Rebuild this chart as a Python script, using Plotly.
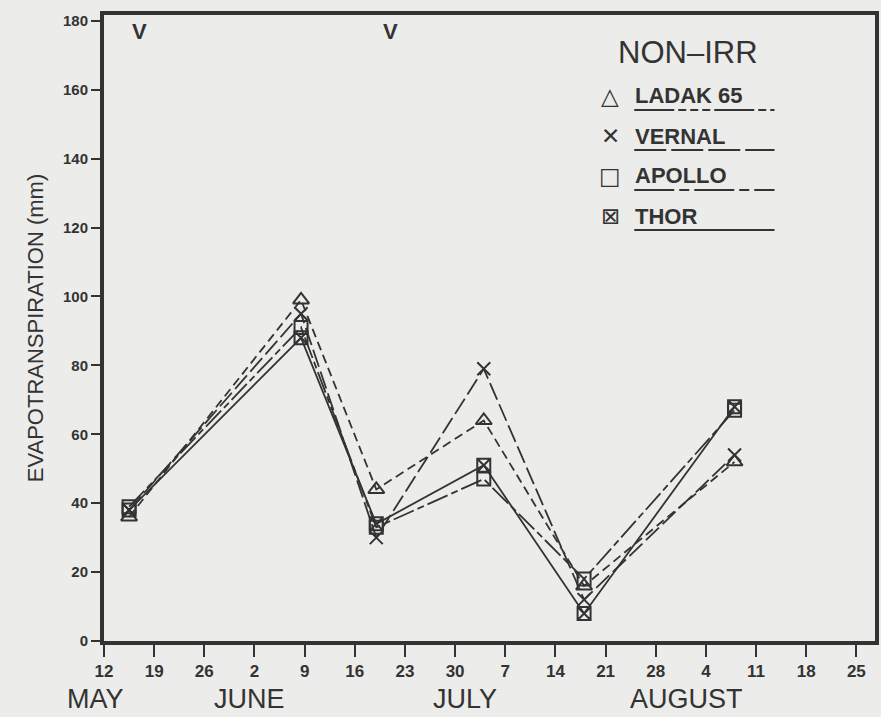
import plotly.graph_objects as go

# ---- data (x = days after 12 May) ----
days = [3.5, 27.5, 38, 53, 67, 88]
ladak = [36, 99, 44, 64, 16, 52]
vernal = [38, 95, 30, 79, 12, 54]
apollo = [39, 91, 33, 47, 18, 67]
thor = [38, 88, 34, 51, 8, 68]

tick_days = [0, 7, 14, 21, 28, 35, 42, 49, 56, 63, 70, 77, 84, 91, 98, 105]
tick_text = ["12", "19", "26", "2", "9", "16", "23", "30", "7", "14", "21", "28", "4", "11", "18", "25"]
months = ["MAY", "JUNE", "JULY", "AUGUST"]
month_px = [95, 250, 467, 690]
cut_days = [5, 40]

INK = "#333333"
BG = "#ececea"
SANS = "Liberation Sans, Arial, sans-serif"

W, H = 881, 717
L, R, T, B = 104, 2, 15, 76
PW, PH = W - L - R, H - T - B


def px(xp):
    return (xp - L) / PW


def py(yp):
    return (H - B - yp) / PH


series = [
    ("LADAK 65", ladak, "9px,5px", "triangle-up-open", 14),
    ("VERNAL", vernal, "18px,5px", "x-thin-open", 13),
    ("APOLLO", apollo, "22px,4px,7px,4px", "square-open", 13),
    ("THOR", thor, "solid", "square-x-open", 13),
]
legend_dash = ["40px,4px,8px,4px,8px,4px,8px,4px", "32px,5px", "40px,5px,10px,5px", "solid"]

fig = go.Figure()
for name, vals, dash, sym, size in series:
    fig.add_trace(go.Scatter(
        x=days, y=vals, name=name, mode="lines+markers",
        line=dict(color=INK, width=1.8, dash=dash),
        marker=dict(symbol=sym, size=size, color=INK, line=dict(width=2, color=INK)),
        showlegend=False,
    ))

annotations = []
shapes = []

# legend title
annotations.append(dict(x=px(691), y=py(52), xref="paper", yref="paper", text="NON\u2013IRR",
                        showarrow=False, font=dict(family=SANS, size=31, color=INK),
                        xanchor="center", yanchor="middle"))
leg_sym = ["\u25b3", "\u2715", "\u25a1", "\u22a0"]
leg_y = [96, 136, 176, 216]
for (name, vals, dash, sym, size), s, ly, ld in zip(series, leg_sym, leg_y, legend_dash):
    annotations.append(dict(x=px(613), y=py(ly), xref="paper", yref="paper", text=s,
                            showarrow=False, font=dict(family="DejaVu Sans", size=23, color=INK),
                            xanchor="center", yanchor="middle"))
    annotations.append(dict(x=px(636), y=py(ly), xref="paper", yref="paper", text=name,
                            showarrow=False, font=dict(family=SANS, size=22, color=INK, weight="bold"),
                            xanchor="left", yanchor="middle"))
    shapes.append(dict(type="line", xref="paper", yref="paper", x0=px(637), x1=px(778),
                       y0=py(ly + 14), y1=py(ly + 14), line=dict(color=INK, width=2, dash=ld)))

# cut markers
for cd in cut_days:
    annotations.append(dict(x=cd, y=py(32), xref="x", yref="paper", text="V", showarrow=False,
                            font=dict(family=SANS, size=22, color=INK, weight="bold"),
                            xanchor="center", yanchor="middle"))

# month labels
for m, mp in zip(months, month_px):
    annotations.append(dict(x=px(mp), y=py(699), xref="paper", yref="paper", text=m,
                            showarrow=False, font=dict(family=SANS, size=27, color=INK),
                            xanchor="center", yanchor="middle"))

fig.update_layout(
    width=W, height=H,
    margin=dict(l=L, r=R, t=T, b=B),
    paper_bgcolor=BG, plot_bgcolor=BG,
    annotations=annotations, shapes=shapes,
    xaxis=dict(range=[0, 107.6], tickvals=tick_days, ticktext=tick_text,
               ticks="outside", ticklen=12, tickwidth=2, tickcolor=INK,
               showline=True, linewidth=4, linecolor=INK, mirror=True,
               showgrid=False, zeroline=False,
               tickfont=dict(family=SANS, size=17, color=INK, weight="bold")),
    yaxis=dict(range=[0, 181.7], tickvals=list(range(0, 181, 20)),
               ticks="outside", ticklen=9, tickwidth=2, tickcolor=INK,
               showline=True, linewidth=4, linecolor=INK, mirror=True,
               showgrid=False, zeroline=False,
               tickfont=dict(family=SANS, size=15, color=INK, weight="bold"),
               title=dict(text="EVAPOTRANSPIRATION (mm)", standoff=14,
                          font=dict(family=SANS, size=22, color="#333333"))),
)

fig.write_html("out.html")
